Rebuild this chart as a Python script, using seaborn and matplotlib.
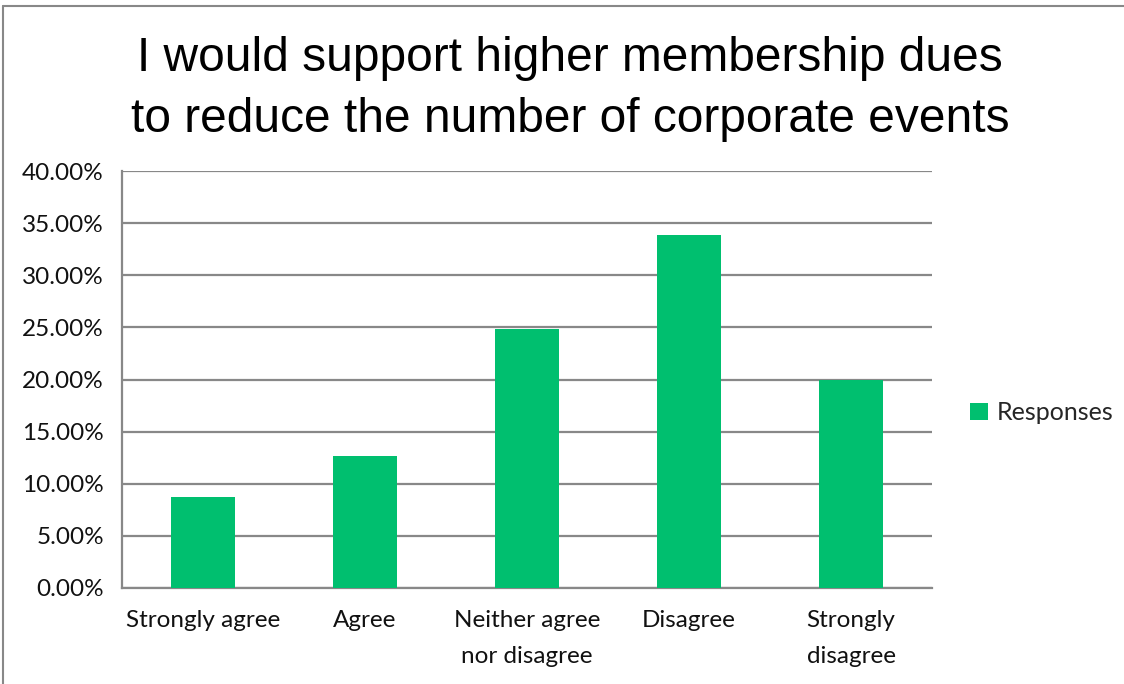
import matplotlib
matplotlib.use("Agg")
import matplotlib.pyplot as plt
import pandas as pd
import seaborn as sns
from matplotlib.lines import Line2D
from matplotlib.patches import Patch
from matplotlib.ticker import FixedLocator, PercentFormatter

# Survey answers and share of responses (%)
CATEGORIES = [
    "Strongly agree",
    "Agree",
    "Neither agree\nnor disagree",
    "Disagree",
    "Strongly\ndisagree",
]
RESPONSES = [8.73, 12.66, 24.80, 33.90, 20.00]
Y_TICKS = [0, 5, 10, 15, 20, 25, 30, 35, 40]

TITLE = "I would support higher membership dues\nto reduce the number of corporate events"
SERIES = "Responses"

GREEN = "#00BF6F"
GRID = "#888888"

sns.set_style("white")
plt.rcParams["font.family"] = ["Lato", "DejaVu Sans"]

df = pd.DataFrame({"answer": CATEGORIES, "pct": RESPONSES})

fig = plt.figure(figsize=(11.24, 6.84), dpi=100)
ax = fig.add_axes([122 / 1124, 96 / 684, 810 / 1124, 417 / 684])

sns.barplot(data=df, x="answer", y="pct", color=GREEN, width=0.4,
            saturation=1, linewidth=0, ax=ax, zorder=3)

ax.set_ylim(0, 40)
ax.set_xlim(-0.5, len(CATEGORIES) - 0.5)
ax.yaxis.set_major_locator(FixedLocator(Y_TICKS))
ax.yaxis.set_major_formatter(PercentFormatter(decimals=2))
ax.grid(axis="y", color=GRID, linewidth=1.6, zorder=0)
ax.set_axisbelow(True)

# category labels in the middle, tick marks at the boundaries
ax.set_xticks(range(len(CATEGORIES)))
ax.set_xticklabels(CATEGORIES, fontsize=17.5, linespacing=1.85)
ax.set_xticks([i - 0.5 for i in range(len(CATEGORIES) + 1)], minor=True)
ax.tick_params(axis="x", which="major", length=0, pad=16, colors="#111111")
ax.tick_params(axis="x", which="minor", length=8, width=1.6, color=GRID, direction="out")
ax.tick_params(axis="y", length=8, width=1.6, color=GRID, direction="out",
               labelsize=17.5, labelcolor="#111111", pad=5)
ax.set_xlabel("")
ax.set_ylabel("")

for side in ["top", "right"]:
    ax.spines[side].set_visible(False)
for side in ["left", "bottom"]:
    ax.spines[side].set_color(GRID)
    ax.spines[side].set_linewidth(1.6)

fig.text(570 / 1124, 1 - 89 / 684, TITLE, ha="center", va="center",
         fontsize=34.5, family="Liberation Sans", linespacing=1.45, color="#000000")

handle = Patch(facecolor=GREEN, edgecolor="none")
fig.legend([handle], [SERIES], loc="center left",
           bbox_to_anchor=(948 / 1124, 1 - 413 / 684), frameon=False,
           fontsize=18, handlelength=0.7, handleheight=0.7, handletextpad=0.35)

# outer chart frame (only top and left edges are visible in the crop)
fig.add_artist(Line2D([3 / 1124, 1], [1 - 6 / 684, 1 - 6 / 684],
                      transform=fig.transFigure, color="#888888", linewidth=1.5))
fig.add_artist(Line2D([3 / 1124, 3 / 1124], [0, 1 - 6 / 684],
                      transform=fig.transFigure, color="#888888", linewidth=1.5))

fig.savefig("out.png", dpi=100, facecolor="white")
